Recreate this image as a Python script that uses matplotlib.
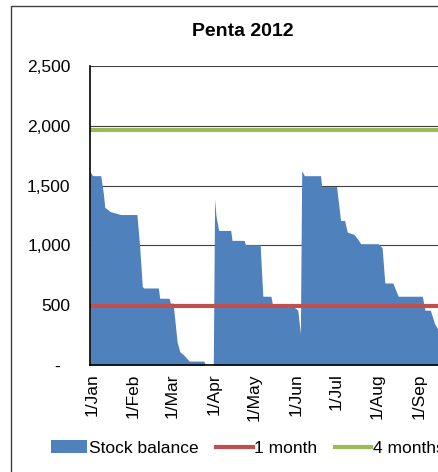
import matplotlib
matplotlib.use('Agg')
import matplotlib.pyplot as plt
import matplotlib.transforms as mtransforms
import numpy as np
from matplotlib.patches import Rectangle

# data
dates = ['2012-01-01', '2012-01-03', '2012-01-09', '2012-01-11', '2012-01-12',
         '2012-01-16', '2012-01-24', '2012-02-05', '2012-02-07', '2012-02-09',
         '2012-02-10', '2012-02-21', '2012-02-22', '2012-02-29', '2012-03-01',
         '2012-03-03', '2012-03-06', '2012-03-08', '2012-03-11', '2012-03-15',
         '2012-03-26', '2012-03-27', '2012-04-02', '2012-04-03', '2012-04-04',
         '2012-04-06', '2012-04-15', '2012-04-16', '2012-04-25', '2012-04-26',
         '2012-05-07', '2012-05-08', '2012-05-09', '2012-05-15', '2012-05-16',
         '2012-05-23', '2012-05-24', '2012-06-01', '2012-06-04', '2012-06-06',
         '2012-06-07', '2012-06-09', '2012-06-21', '2012-06-22', '2012-07-03',
         '2012-07-06', '2012-07-09', '2012-07-11', '2012-07-16', '2012-07-19',
         '2012-07-21', '2012-08-03', '2012-08-06', '2012-08-08', '2012-08-14',
         '2012-08-16', '2012-08-18', '2012-09-05', '2012-09-07', '2012-09-11',
         '2012-09-14', '2012-09-19']
stock = [1617, 1583, 1583, 1431, 1319,
         1283, 1258, 1258, 1000, 658,
         644, 644, 558, 558, 517,
         517, 194, 111, 83, 33,
         33, 0, 0, 1389, 1250,
         1125, 1125, 1042, 1042, 1006,
         1006, 780, 575, 575, 514,
         514, 486, 486, 460, 264,
         1625, 1583, 1583, 1492, 1492,
         1208, 1208, 1111, 1092, 1050,
         1014, 1014, 981, 686, 686,
         630, 575, 575, 458, 458,
         350, 250]
one_month = 492
four_months = 1967

yticks = [0, 500, 1000, 1500, 2000, 2500]
ytick_labels = ['-  ', '500', '1,000', '1,500', '2,000', '2,500']
month_ticks = ['2012-01-01', '2012-02-01', '2012-03-01', '2012-04-01', '2012-05-01',
               '2012-06-01', '2012-07-01', '2012-08-01', '2012-09-01']
month_labels = ['1/Jan', '1/Feb', '1/Mar', '1/Apr', '1/May', '1/Jun', '1/Jul',
                '1/Aug', '1/Sep']

plt.rcParams['font.family'] = ['Liberation Sans', 'DejaVu Sans']
plt.rcParams['font.size'] = 12.5

W, H = 438, 472
fig = plt.figure(figsize=(W / 100, H / 100), dpi=100)

# outer chart frame (cut off at right and bottom)
fig.patches.append(Rectangle((11 / W, -0.1), 2, 1.1 - 6 / H, transform=fig.transFigure,
                             fill=False, edgecolor='#404040', lw=1))

# plot area runs past the right edge of the picture
x_days = np.array(dates, dtype='datetime64[D]')
px_per_day = 1.34
left_px, top_px, bottom_px = 90, 66, 365
width_px = 366 * px_per_day
ax = fig.add_axes([left_px / W, 1 - bottom_px / H, width_px / W, (bottom_px - top_px) / H])

ax.fill_between(x_days, stock, 0, color='#4F81BD', lw=0, zorder=2, label='Stock balance')
xlim = (np.datetime64('2012-01-01'), np.datetime64('2013-01-01'))
ax.plot(xlim, [one_month] * 2, color='#C0504D', lw=3, zorder=3, label='1 month')
ax.plot(xlim, [four_months] * 2, color='#9BBB59', lw=3, zorder=3, label='4 months')

ax.set_xlim(xlim)
ax.set_ylim(0, 2500)
ax.set_yticks(yticks)
ax.set_yticklabels(ytick_labels)
ax.set_xticks(np.array(month_ticks, dtype='datetime64[D]'))
ax.set_xticklabels(month_labels, rotation=90)
ax.tick_params(axis='y', length=0, pad=14)
ax.tick_params(axis='x', length=0, pad=6)
shift = mtransforms.ScaledTranslation(2 / 100, 0, fig.dpi_scale_trans)
for lbl in ax.get_xticklabels():
    lbl.set_transform(lbl.get_transform() + shift)

ax.yaxis.grid(True, color='#404040', lw=0.8, zorder=1)
ax.set_axisbelow(True)
for s in ['top', 'right']:
    ax.spines[s].set_visible(False)
for s in ['left', 'bottom']:
    ax.spines[s].set_color('black')
    ax.spines[s].set_linewidth(1.2)
    ax.spines[s].set_zorder(4)

fig.text(243 / W, 1 - 32 / H, 'Penta 2012', ha='center', va='center',
         fontsize=14, fontweight='bold')

fig.legend(loc='center left', bbox_to_anchor=(51 / W, 1 - 448 / H), ncol=3,
           frameon=False, handlelength=2.1, handletextpad=0.1, columnspacing=1.0,
           borderpad=0, borderaxespad=0, fontsize=12.5)

fig.savefig('out.png', dpi=100)
